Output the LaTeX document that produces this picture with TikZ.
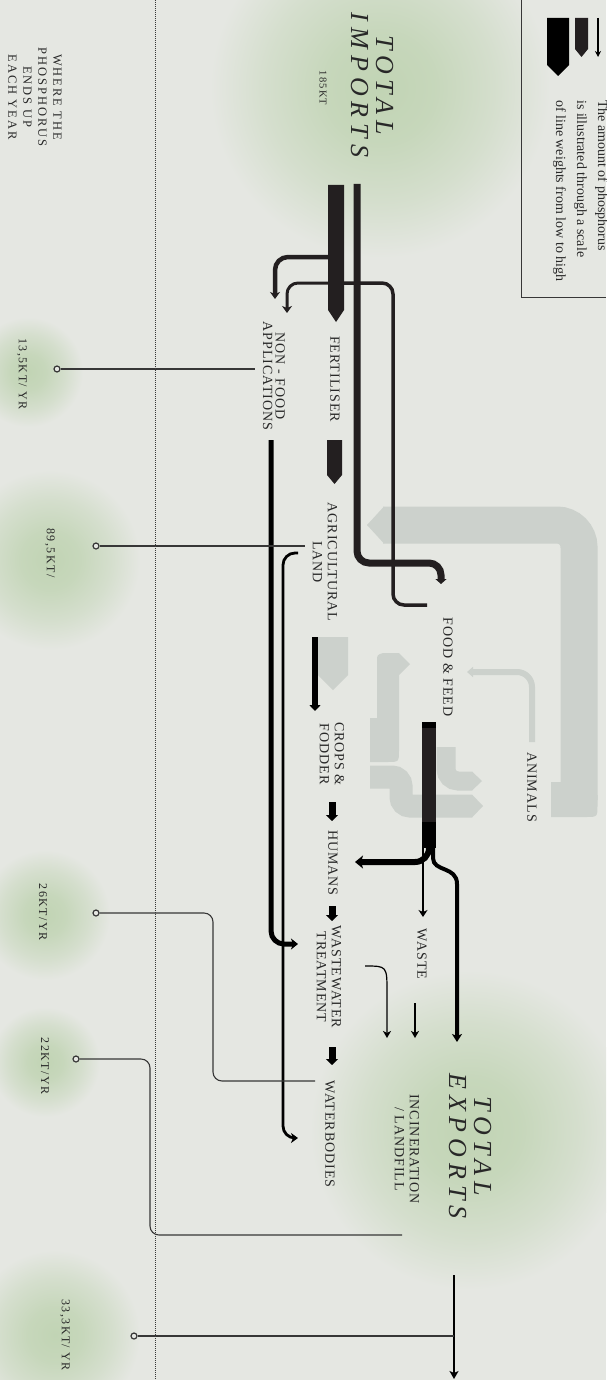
\documentclass[tikz,border=0pt]{standalone}
\usepackage{fontspec}
\setmainfont{Liberation Serif}
\newfontfamily\lblfont[LetterSpace=7]{Liberation Serif}
\newfontfamily\ttlfont[LetterSpace=23]{Liberation Serif}
\newfontfamily\smfont[LetterSpace=12]{Liberation Serif}
\newfontfamily\hdfont[LetterSpace=16]{Liberation Serif}
\usetikzlibrary{arrows.meta}
\definecolor{bgc}{RGB}{229,231,226}
\definecolor{glowc}{RGB}{193,212,180}
\colorlet{glowb}{glowc!85!bgc}
\colorlet{glowd}{glowc!45!bgc}
\definecolor{darkc}{RGB}{35,31,32}
\definecolor{greyc}{RGB}{204,209,204}
\definecolor{txtc}{RGB}{40,40,40}
\definecolor{leadc}{RGB}{55,55,55}
\pgfdeclareradialshading{glow}{\pgfpoint{0bp}{0bp}}{color(0bp)=(glowc);color(8bp)=(glowb);color(17bp)=(glowd);color(25bp)=(bgc);color(50bp)=(bgc)}
\begin{document}
\begin{tikzpicture}[x=1pt,y=-1pt,
 lbl/.style={rotate=-90, inner sep=0pt, align=center, text=txtc, font=\lblfont\fontsize{14}{15}\selectfont},
 val/.style={rotate=-90, inner sep=0pt, text=txtc, font=\smfont\fontsize{12}{14}\selectfont},
 ttl/.style={rotate=-90, inner sep=0pt, align=center, text=txtc, font=\ttlfont\itshape\fontsize{26}{25}\selectfont},
 legtxt/.style={rotate=-90, anchor=base west, inner sep=0pt, text=txtc, font=\fontsize{14}{16}\selectfont},
 lead/.style={draw=leadc, line width=1.1pt},
 dotc/.style={draw=leadc, fill=bgc, line width=1.2pt, circle, inner sep=0pt, minimum size=6pt},
 tipS/.style={-{Stealth[length=7pt,width=10pt,inset=2pt]}},
 tipT/.style={-{Triangle[length=6pt,width=12pt]}},
]
\useasboundingbox (0,0) rectangle (606,1380);
\fill[bgc] (0,0) rectangle (606,1380);
\clip (0,0) rectangle (606,1380);
% glows
\shade[shading=glow] (380,88) circle (170pt);
\shade[shading=glow] (470,1130) circle (160pt);
\shade[shading=glow] (28,372) circle (55pt);
\shade[shading=glow] (50,560) circle (90pt);
\shade[shading=glow] (45,915) circle (65pt);
\shade[shading=glow] (45,1062) circle (55pt);
\shade[shading=glow] (55,1335) circle (85pt);
% dotted line
\draw[leadc, line width=0.8pt, dash pattern=on 0.8pt off 1.2pt] (155,0) -- (155,1380);
% grey flows
\draw[greyc, line width=37pt, rounded corners=22pt] (383,525) -- (579,525) -- (579,800);
\fill[greyc] (551,782) -- (561,782) -- (561,795) -- (597.5,795) -- (597.5,805) .. controls (597.5,817) .. (585.5,817) -- (551,817) -- cycle;
\fill[greyc] (384,506.5) -- (367,525) -- (384,543.5) -- cycle;
\draw[greyc, line width=6pt, rounded corners=15pt, -{Triangle[length=6pt,width=10pt]}] (532,742) -- (532,672) -- (467,672);
\fill[greyc] (370,762) -- (370,718) -- (377,718) -- (377,661) .. controls (377,655) .. (383,653) -- (399,653) -- (410,664) -- (399,675) -- (399,750) .. controls (399,762) .. (387,762) -- cycle;
\draw[greyc, line width=23pt, rounded corners=9pt] (370,777) -- (401,777) -- (401,806) -- (472,806);
\fill[greyc] (472,794.5) -- (483,806) -- (472,817.5) -- cycle;
\draw[greyc, line width=19pt, rounded corners=12pt] (446,747) -- (446,781) -- (472,781);
\fill[greyc] (472,771.5) -- (482,781) -- (472,790.5) -- cycle;
\fill[greyc] (318,637) -- (348,637) -- (348,675) -- (333,690) -- (318,675) -- cycle;
% legend
\draw[leadc, line width=1pt] (521,0) -- (521,297) -- (606,297);
\fill[black] (547,18) -- (569,18) -- (569,65) -- (558,76) -- (547,65) -- cycle;
\fill[darkc] (575,18) -- (588,18) -- (588,49) -- (581.5,57) -- (575,49) -- cycle;
\draw[black, line width=1.4pt, -{Stealth[length=6pt,width=6pt]}] (598,18) -- (598,57);
\node[legtxt] (lg1) at (598,100) {The amount of phosphorus};
\node[legtxt] (lg2) at (577,100) {is illustrated through a scale};
\node[legtxt] (lg3) at (556,100) {of line weights from low to high};
% imports flows
\coordinate (fl) at (336,283);
\draw[darkc, line width=3pt, rounded corners=11pt, tipS] (fl) -- (287,283) -- (287,313);
\draw[darkc, line width=4.5pt, rounded corners=13pt, tipS] (336,257) -- (275,257) -- (275,299);
\draw[darkc, line width=3.5pt, rounded corners=11pt] (fl) -- (393,283) -- (393,605) -- (427,605);
\fill[darkc] (328,185) -- (344,185) -- (344,310) -- (336,322) -- (328,310) -- cycle;
\draw[darkc, line width=7pt, rounded corners=12pt, -{Triangle[length=5pt,width=11pt]}] (357,184) -- (357,563) -- (441,563) -- (441,584);
\fill[darkc] (327,440) -- (342,440) -- (342,475) -- (334.5,484) -- (327,475) -- cycle;
\draw[black, line width=5pt, rounded corners=13pt, -{Stealth[length=7pt,width=11pt,inset=2pt]}] (271,440) -- (271,944) -- (298,944);
\draw[black, line width=2.8pt, rounded corners=12pt, -{Stealth[length=7pt,width=10pt,inset=2pt]}] (298,553) -- (283,553) -- (283,1138) -- (298,1138);
\draw[black, line width=6pt, -{Triangle[length=6pt,width=11pt]}] (315,637) -- (315,711);
\draw[black, line width=7pt, tipT] (332,802) -- (332,821);
\draw[black, line width=7pt, tipT] (332,906) -- (332,921);
\draw[black, line width=7pt, tipT] (332,1047) -- (332,1065);
% food & feed
\fill[darkc] (422,722) rectangle (436,848);
\fill[black] (422,722) rectangle (436,728);
\fill[black] (422,822) rectangle (436,848);
\draw[black, line width=6pt, rounded corners=14pt, -{Stealth[length=8pt,width=13pt,inset=2pt]}] (429,830) -- (429,862) -- (355,862);
\draw[black, line width=2.5pt, -{Stealth[length=7pt,width=9pt,inset=2pt]}] (423,840) -- (423,917);
\draw[black, line width=4pt, -{Stealth[length=8pt,width=10pt,inset=2pt]}] (433,840) -- (433,858) .. controls (433,872) and (457,866) .. (457,884) -- (457,1042);
\draw[black, line width=1.6pt, -{Stealth[length=7pt,width=8pt,inset=2pt]}] (415,1003) -- (415,1038);
\draw[black, line width=1.2pt, -{Stealth[length=7pt,width=8pt,inset=2pt]}] (365,966) .. controls (387,966) .. (387,992) -- (387,1038);
\draw[black, line width=2.4pt, -{Stealth[length=8pt,width=9pt,inset=2pt]}] (454,1275) -- (454,1379);
% leaders
\node[dotc] (p1) at (57,369) {};
\node[dotc] (p2) at (96,546) {};
\node[dotc] (p3) at (96,913) {};
\node[dotc] (p4) at (76,1059) {};
\node[dotc] (p5) at (134,1336) {};
\coordinate (q1) at (255,369);
\coordinate (q2) at (305,546);
\coordinate (q3) at (315,1081);
\coordinate (q4) at (402,1235);
\coordinate (q5) at (454,1336);
\draw[lead] (p1) -- (q1);
\draw[lead] (p2) -- (q2);
\draw[lead, rounded corners=9pt] (p3) -- (213,913) -- (213,1081) -- (q3);
\draw[lead, rounded corners=9pt] (p4) -- (150,1059) -- (150,1235) -- (q4);
\draw[lead] (p5) -- (q5);
% texts
\node[ttl] (imp) at (372,85) {TOTAL\\IMPORTS};
\node[val, font=\smfont\fontsize{10.5}{12}\selectfont] (imp185) at (323,88) {185KT};
\node[ttl] (exp) at (470,1146) {TOTAL\\EXPORTS};
\node[rotate=-90, inner sep=0pt, align=center, text=txtc, font=\hdfont\fontsize{12.5}{15}\selectfont] (hdr) at (35,97) {WHERE THE\\PHOSPHORUS\\ENDS UP\\EACH YEAR};
\node[lbl] (fert) at (335,379) {FERTILISER};
\node[lbl, font=\lblfont\fontsize{14}{12.5}\selectfont] (nonfood) at (274,376) {NON - FOOD\\APPLICATIONS};
\node[lbl] (agri) at (325,562) {AGRICULTURAL\\LAND};
\node[lbl] (food) at (448,667) {FOOD \& FEED};
\node[lbl] (crops) at (332,754) {CROPS \&\\FODDER};
\node[lbl] (animals) at (532,787) {ANIMALS};
\node[lbl] (humans) at (333,863) {HUMANS};
\node[lbl] (waste) at (422,954) {WASTE};
\node[lbl] (ww) at (329,977) {WASTEWATER\\TREATMENT};
\node[lbl] (water) at (330,1134) {WATERBODIES};
\node[lbl] (incin) at (407,1149) {INCINERATION\\/ LANDFILL};
\node[val] (v1) at (22,374) {13,5KT/ YR};
\node[val] (v2) at (50,553) {89,5KT/};
\node[val] (v3) at (43,912) {26KT/YR};
\node[val] (v4) at (45,1066) {22KT/YR};
\node[val] (v5) at (65,1335) {33,3KT/ YR};
\end{tikzpicture}
\end{document}
